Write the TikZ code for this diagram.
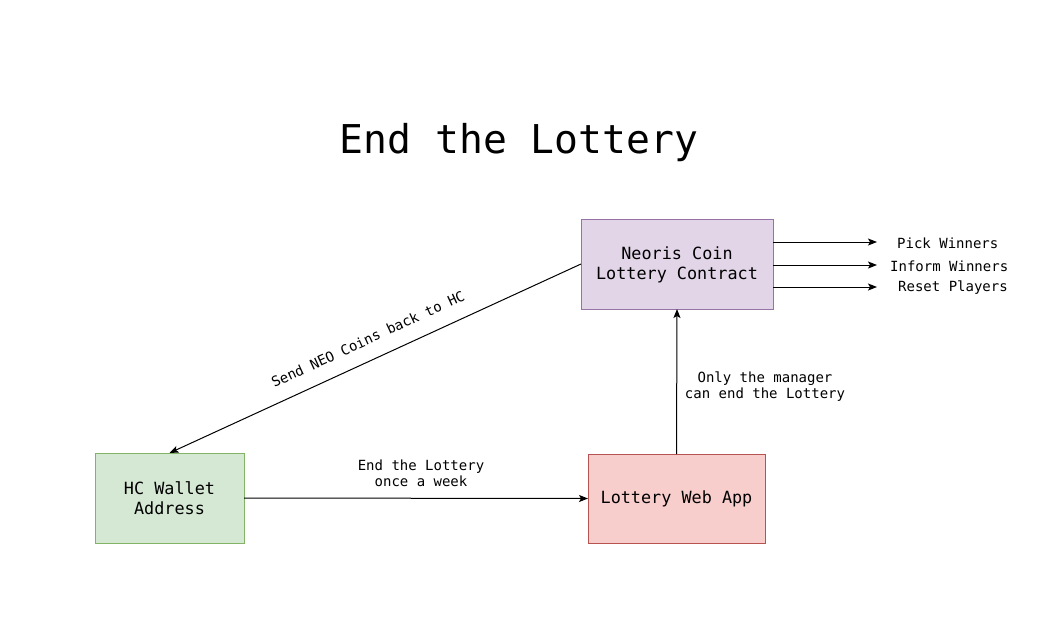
\documentclass[tikz,border=0pt]{standalone}
\usepackage{fontspec}
\setmonofont{DejaVu Sans Mono}
\usetikzlibrary{arrows.meta, positioning}
\definecolor{contractfill}{HTML}{E1D5E7}
\definecolor{contractdraw}{HTML}{9673A6}
\definecolor{walletfill}{HTML}{D5E8D4}
\definecolor{walletdraw}{HTML}{82B366}
\definecolor{appfill}{HTML}{F8CECC}
\definecolor{appdraw}{HTML}{B85450}
\tikzset{
  box/.style={rectangle, draw=#1, line width=1pt, align=center,
      inner sep=0pt, outer sep=0pt,
      font=\ttfamily\fontsize{16.8}{20}\selectfont},
  lbl/.style={align=center, inner sep=0pt,
      font=\ttfamily\fontsize{14}{16}\selectfont},
  link/.style={-{Stealth[length=9pt, width=7pt, inset=2pt]}, line width=1pt},
}

\begin{document}
\begin{tikzpicture}[x=1pt, y=-1pt]
  \useasboundingbox (0,0) rectangle (1037,619);

  \node[font=\ttfamily\fontsize{39.7}{44}\selectfont] (title) at (519,142.5) {End the Lottery};

  \node[box=contractdraw, fill=contractfill, minimum width=192pt, minimum height=90pt,
    text depth=1pt] (contract) at (677,264) {Neoris Coin\\Lottery Contract};
  \node[box=walletdraw, fill=walletfill, minimum width=149pt, minimum height=90pt]
    (wallet) at (169.5,498) {HC Wallet\\Address};
  \node[box=appdraw, fill=appfill, minimum width=177pt, minimum height=89pt]
    (webapp) at (676.5,498.5) {Lottery Web App};

  % outputs of the contract
  \coordinate (pick) at (877,242);
  \coordinate (inform) at (877,265);
  \coordinate (reset) at (877,287);
  \node[lbl, anchor=west] (picklbl) at (897,243) {Pick Winners};
  \node[lbl, anchor=west] (informlbl) at (890,266) {Inform Winners};
  \node[lbl, anchor=west] (resetlbl) at (898,288) {Reset Players};
  \draw[link] (contract.east |- pick) -- (pick);
  \draw[link] (contract.east |- inform) -- (inform);
  \draw[link] (contract.east |- reset) -- (reset);

  \draw[link] (contract.west) -- (wallet.north);
  \node[lbl, rotate=24.7] (sendlbl) at (368,339) {Send NEO Coins back to HC};

  \draw[link] (wallet.east) -- (webapp.west);
  \node[lbl] (weeklbl) at (421,473) {End the Lottery\\once a week};

  \draw[link] (webapp.north) -- (contract.south);
  \node[lbl] (managerlbl) at (765,386.5) {Only the manager\\can end the Lottery};
\end{tikzpicture}
\end{document}
